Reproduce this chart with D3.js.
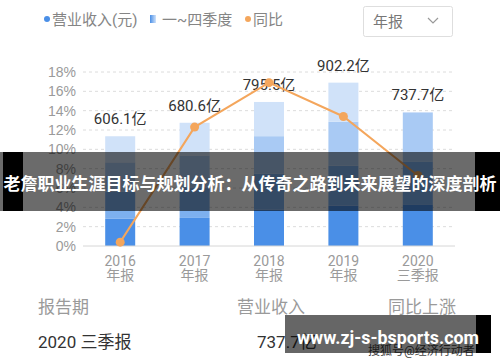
<!DOCTYPE html>
<html>
<head>
<meta charset="utf-8">
<script src="https://cdn.jsdelivr.net/npm/d3@7/dist/d3.min.js"></script>
<style>
  body { margin: 0; background: #fff; }
  svg { display: block; font-family: Roboto, "Noto Sans CJK SC", sans-serif; }
</style>
</head>
<body>
<svg id="chart" width="500" height="362"></svg>
<script>
// chart data
var years = ["2016", "2017", "2018", "2019", "2020"];
var periods = ["年报", "年报", "年报", "年报", "三季报"];
var revenue = [606.1, 680.6, 795.5, 902.2, 737.7];
var q1 = [150, 155, 200, 222, 230];
var q2 = [150, 165, 200, 221, 237];
var q3 = [162, 180, 206.5, 243, 270.7];
var q4 = [144.1, 180.6, 189, 216.2, 0];
var growth = [0.4, 12.3, 16.9, 13.4, 7.3];
var pctTicks = [0, 2, 4, 6, 8, 10, 12, 14, 16, 18];

var svg = d3.select("#chart");

var xScale = d3.scalePoint()
    .domain(years)
    .range([83, 455])
    .padding(0.5);

var yPct = d3.scaleLinear()
    .domain([0, 18])
    .range([246, 72]);

var yBar = d3.scaleLinear()
    .domain([0, 961])
    .range([246, 72]);

var quarterColors = ["#4a8fe7", "#7db0ef", "#a9caf4", "#d0e2f9"];
var barW = 30;

// gridlines + y labels
var grid = svg.append("g");
grid.selectAll("line")
    .data(pctTicks.filter(function(d) { return d > 0; }))
    .enter()
    .append("line")
    .attr("x1", 83)
    .attr("x2", 455)
    .attr("y1", function(d) { return yPct(d); })
    .attr("y2", function(d) { return yPct(d); })
    .attr("stroke", "#dcdcdc")
    .attr("stroke-dasharray", "3,3");

var yAxis = d3.axisLeft(yPct)
    .tickValues(pctTicks)
    .tickFormat(function(d) { return d + "%"; })
    .tickSize(0)
    .tickPadding(6);

var yG = svg.append("g")
    .attr("transform", "translate(83,0)")
    .call(yAxis);
yG.select(".domain").remove();
yG.selectAll("text")
    .attr("fill", "#9a9a9a")
    .attr("font-size", "14px")
    .attr("x", -7);

// stacked bars
var table = years.map(function(y, i) {
    return { year: y, q1: q1[i], q2: q2[i], q3: q3[i], q4: q4[i] };
});
var stack = d3.stack().keys(["q1", "q2", "q3", "q4"]);
var layers = stack(table);

svg.append("g")
    .selectAll("g")
    .data(layers)
    .enter()
    .append("g")
    .attr("fill", function(d, i) { return quarterColors[i]; })
    .selectAll("rect")
    .data(function(d) { return d; })
    .enter()
    .append("rect")
    .attr("x", function(d) { return xScale(d.data.year) - barW / 2; })
    .attr("width", barW)
    .attr("y", function(d) { return yBar(d[1]); })
    .attr("height", function(d) { return yBar(d[0]) - yBar(d[1]); });

// baseline
svg.append("line")
    .attr("x1", 83).attr("x2", 455)
    .attr("y1", yPct(0)).attr("y2", yPct(0))
    .attr("stroke", "#d6d6d6");

// value labels
svg.append("g")
    .selectAll("text")
    .data(revenue)
    .enter()
    .append("text")
    .text(function(d) { return d + "亿"; })
    .attr("x", function(d, i) { return xScale(years[i]); })
    .attr("y", function(d) { return yBar(d) - 12; })
    .attr("text-anchor", "middle")
    .attr("font-size", "15px")
    .attr("fill", "#333");

// growth line
var line = d3.line()
    .x(function(d, i) { return xScale(years[i]); })
    .y(function(d) { return yPct(d); });

svg.append("path")
    .datum(growth)
    .attr("fill", "none")
    .attr("stroke", "#f4a65c")
    .attr("stroke-width", 2)
    .attr("d", line);

svg.append("g")
    .selectAll("circle")
    .data(growth)
    .enter()
    .append("circle")
    .attr("cx", function(d, i) { return xScale(years[i]); })
    .attr("cy", function(d) { return yPct(d); })
    .attr("r", 4.5)
    .attr("fill", "#f4a65c");

// x labels
var xl = svg.append("g")
    .selectAll("g")
    .data(years)
    .enter()
    .append("g")
    .attr("transform", function(d) { return "translate(" + xScale(d) + ",0)"; });
xl.append("text")
    .text(function(d) { return d; })
    .attr("y", 266)
    .attr("text-anchor", "middle")
    .attr("font-size", "14px")
    .attr("fill", "#9a9a9a");
xl.append("text")
    .text(function(d, i) { return periods[i]; })
    .attr("y", 280)
    .attr("text-anchor", "middle")
    .attr("font-size", "14px")
    .attr("fill", "#9a9a9a");

// legend
var defs = svg.append("defs");
var grad = defs.append("linearGradient").attr("id", "qgrad");
grad.append("stop").attr("offset", "0%").attr("stop-color", quarterColors[0]);
grad.append("stop").attr("offset", "100%").attr("stop-color", quarterColors[3]);

var legend = svg.append("g").attr("font-size", "15px").attr("fill", "#858585");
legend.append("circle").attr("cx", 47).attr("cy", 19).attr("r", 3).attr("fill", quarterColors[0]);
legend.append("text").attr("x", 52).attr("y", 24.5).text("营业收入(元)");
legend.append("rect").attr("x", 150).attr("y", 15).attr("width", 6).attr("height", 8).attr("fill", "url(#qgrad)");
legend.append("text").attr("x", 162).attr("y", 24.5).text("一~四季度");
legend.append("circle").attr("cx", 248).attr("cy", 19).attr("r", 3).attr("fill", "#f4a65c");
legend.append("text").attr("x", 253).attr("y", 24.5).text("同比");

// dropdown
svg.append("rect")
    .attr("x", 363.5).attr("y", 6.5).attr("width", 89).attr("height", 30)
    .attr("rx", 2).attr("fill", "#fff").attr("stroke", "#dedede");
svg.append("text").attr("x", 373).attr("y", 26.5)
    .attr("font-size", "15px").attr("fill", "#777").text("年报");
svg.append("polyline")
    .attr("points", "428,18 433,23 438,18")
    .attr("fill", "none").attr("stroke", "#999").attr("stroke-width", 1.2);

// bottom info
var info = svg.append("g").attr("font-size", "17px");
info.append("text").attr("x", 38).attr("y", 313).attr("fill", "#9a9a9a").text("报告期");
info.append("text").attr("x", 237).attr("y", 313).attr("fill", "#9a9a9a").text("营业收入");
info.append("text").attr("x", 388).attr("y", 313).attr("fill", "#9a9a9a").text("同比上涨");
info.append("text").attr("x", 38).attr("y", 348).attr("fill", "#333").text("2020 三季报");
info.append("text").attr("x", 257).attr("y", 348).attr("fill", "#333").text("737.7亿");
info.append("text").attr("x", 368).attr("y", 355).attr("font-size", "12px").attr("fill", "#444").text("搜狐号@经济行动者");

// title overlay band
svg.append("rect").attr("x", 0).attr("y", 152).attr("width", 500).attr("height", 59)
    .attr("fill", "rgba(0,0,0,0.58)");
svg.append("rect").attr("x", 3).attr("y", 152).attr("width", 20).attr("height", 59).attr("fill", "#000");
svg.append("rect").attr("x", 475).attr("y", 152).attr("width", 25).attr("height", 59).attr("fill", "#000");
svg.append("text")
    .attr("x", 250).attr("y", 190)
    .attr("text-anchor", "middle")
    .attr("font-size", "17px")
    .attr("font-weight", "bold")
    .attr("fill", "#fff")
    .text("老詹职业生涯目标与规划分析：从传奇之路到未来展望的深度剖析");

// watermark
svg.append("rect").attr("x", 285).attr("y", 315).attr("width", 206).attr("height", 38)
    .attr("fill", "rgba(0,0,0,0.6)");
svg.append("rect").attr("x", 476).attr("y", 315).attr("width", 15).attr("height", 38).attr("fill", "#000");
svg.append("text")
    .attr("x", 297).attr("y", 344)
    .attr("font-size", "19px")
    .attr("font-weight", "bold")
    .attr("fill", "#fff")
    .attr("textLength", 182)
    .attr("lengthAdjust", "spacingAndGlyphs")
    .text("www.zj-s-bsports.com");
</script>
</body>
</html>
